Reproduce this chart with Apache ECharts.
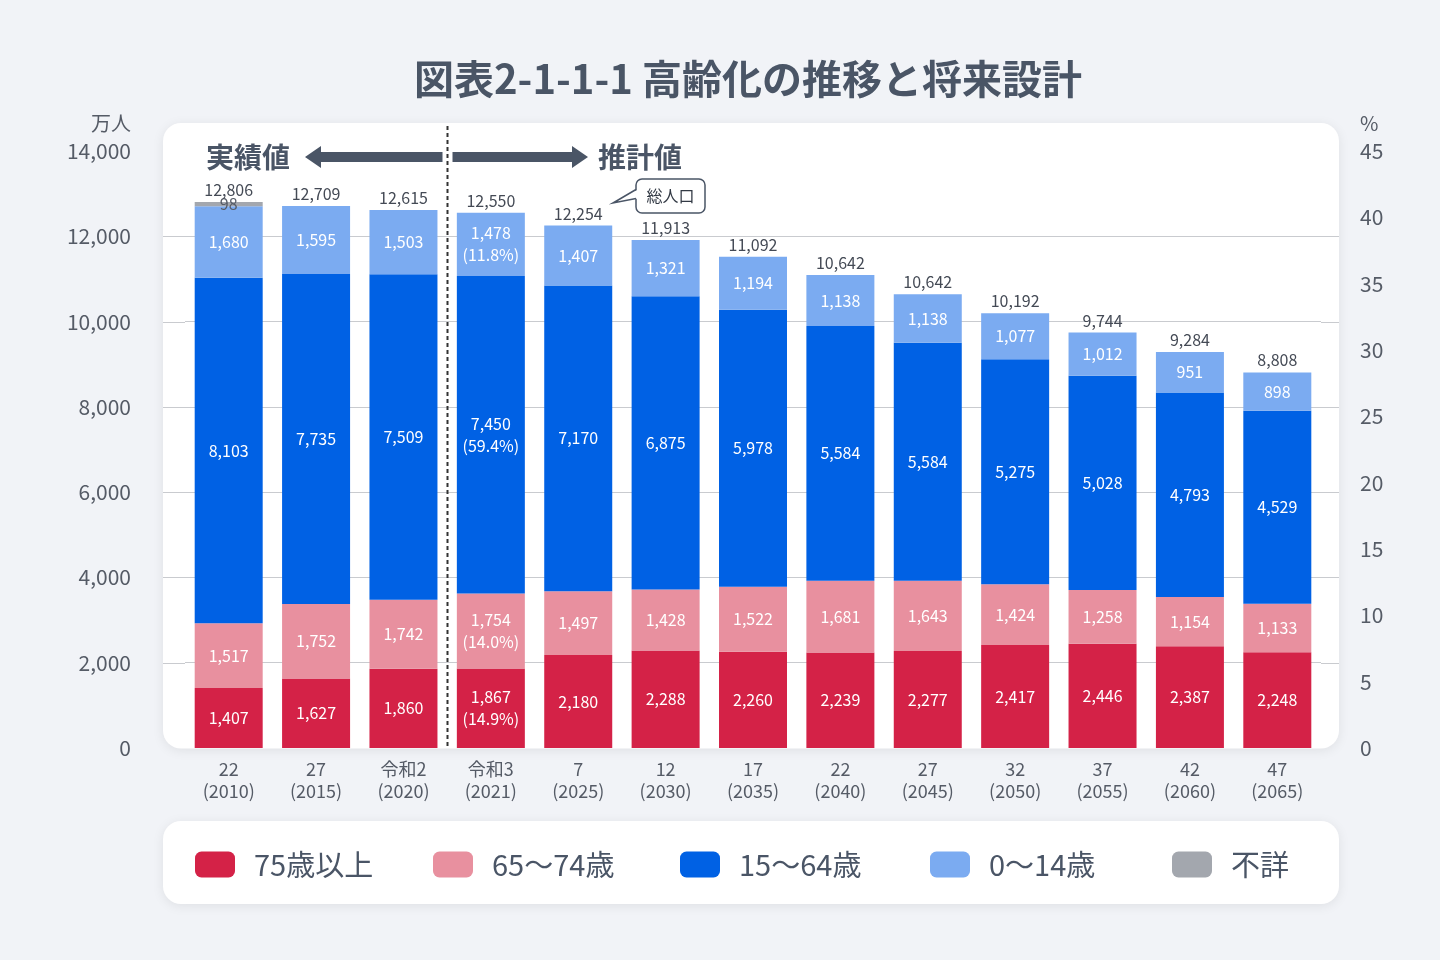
<!DOCTYPE html>
<html>
<head>
<meta charset="utf-8">
<script src="https://cdn.jsdelivr.net/npm/echarts@6/dist/echarts.min.js"></script>
<style>
html,body{margin:0;padding:0;background:#f1f3f7;}
#c{width:1440px;height:960px;}
</style>
</head>
<body>
<div id="c"></div>
<script>
// ---- data ----
const eras  = ['22','27','令和2','令和3','7','12','17','22','27','32','37','42','47'];
const years = ['2010','2015','2020','2021','2025','2030','2035','2040','2045','2050','2055','2060','2065'];

// bar heights as drawn
const age75   = [1407,1627,1860,1867,2180,2288,2260,2239,2277,2417,2446,2387,2248];
const age65   = [1517,1752,1619,1754,1497,1428,1522,1681,1643,1424,1258,1154,1133];
const age15   = [8103,7735,7633,7450,7170,6875,6494,5978,5584,5275,5028,4793,4529];
const age0    = [1680,1595,1503,1478,1407,1321,1246,1194,1138,1077,1012,951,898];
const unknown = [98,0,0,0,0,0,0,0,0,0,0,0,0];

// value labels as printed
const label75    = [1407,1627,1860,1867,2180,2288,2260,2239,2277,2417,2446,2387,2248];
const label65    = [1517,1752,1742,1754,1497,1428,1522,1681,1643,1424,1258,1154,1133];
const label15    = [8103,7735,7509,7450,7170,6875,5978,5584,5584,5275,5028,4793,4529];
const label0     = [1680,1595,1503,1478,1407,1321,1194,1138,1138,1077,1012,951,898];
const totalLabel = [12806,12709,12615,12550,12254,11913,11092,10642,10642,10192,9744,9284,8808];
// shares printed for 令和3 (2021): 75+, 65-74, 15-64, 0-14
const share2021  = [14.9,14.0,59.4,11.8];

const leftAxis  = {min:0, max:14000, interval:2000};
const rightAxis = {min:0, max:45, interval:5};

// ---- chart ----
const FONT = "'Noto Sans CJK JP','Noto Sans',sans-serif";
const TXT = '#4a5566';
const GRID = '#c9cbcf';
const fmt = v => Number(v).toLocaleString('en-US');
const idx2021 = years.indexOf('2021');
const zeros = years.map(() => 0);

function seg(name, values, labels, share, color) {
  return {
    name, type:'bar', stack:'pop', barWidth:68, data:values,
    itemStyle:{color}, emphasis:{disabled:true},
    label:{
      show:true, position:'inside', color:'#fff', fontSize:16, lineHeight:22, fontFamily:FONT,
      formatter: p => fmt(labels[p.dataIndex]) + (p.dataIndex === idx2021 ? '\n(' + share.toFixed(1) + '%)' : '')
    }
  };
}

const names = ['75歳以上','65〜74歳','15〜64歳','0〜14歳','不詳'];
const colors = ['#d42247','#e8909f','#0061e4','#7babf1','#a3a7ae'];
const legendLeft = [195,433,680,930,1172];

const chart = echarts.init(document.getElementById('c'));

const option = {
  backgroundColor:'#f1f3f7',
  animation:false,
  textStyle:{fontFamily:FONT},
  title:{
    text:'図表2-1-1-1 高齢化の推移と将来設計',
    left:409, top:54,
    textStyle:{fontSize:40, fontWeight:'bold', color:TXT, fontFamily:FONT}
  },
  legend: names.map((n,i) => ({
    data:[n], left:legendLeft[i], top:850, padding:0,
    itemWidth:40, itemHeight:26, icon:'roundRect',
    selectedMode:false,
    textStyle:{fontSize:29, color:TXT, fontFamily:FONT, padding:[0,0,0,14]}
  })),
  grid:{left:185, right:119, top:151, bottom:212},
  xAxis:{
    type:'category',
    data: eras.map((e,i) => e + '\n(' + years[i] + ')'),
    axisLine:{show:false}, axisTick:{show:false},
    axisLabel:{fontSize:18, lineHeight:22, color:'#555b66', margin:10, fontFamily:FONT}
  },
  yAxis:[
    {
      type:'value', min:leftAxis.min, max:leftAxis.max, interval:leftAxis.interval,
      name:'万人', nameLocation:'end', nameGap:18,
      nameTextStyle:{fontSize:20, color:'#555b66', align:'right', padding:[0,54,0,0], fontFamily:FONT},
      axisLine:{show:false}, axisTick:{show:false},
      axisLabel:{fontSize:21, color:'#555b66', margin:54, formatter:fmt, fontFamily:FONT},
      splitLine:{show:true, lineStyle:{width:1, color:['rgba(0,0,0,0)',GRID,GRID,GRID,GRID,GRID,GRID,'rgba(0,0,0,0)']}}
    },
    {
      type:'value', position:'right', min:rightAxis.min, max:rightAxis.max, interval:rightAxis.interval,
      name:'%', nameLocation:'end', nameGap:18,
      nameTextStyle:{fontSize:20, color:'#555b66', align:'left', padding:[0,0,0,39], fontFamily:FONT},
      axisLine:{show:false}, axisTick:{show:false}, splitLine:{show:false},
      axisLabel:{fontSize:21, color:'#555b66', margin:39, fontFamily:FONT}
    }
  ],
  series:[
    seg(names[0], age75, label75, share2021[0], colors[0]),
    seg(names[1], age65, label65, share2021[1], colors[1]),
    seg(names[2], age15, label15, share2021[2], colors[2]),
    seg(names[3], age0,  label0,  share2021[3], colors[3]),
    {
      name:names[4], type:'bar', stack:'pop', barWidth:68, data:unknown,
      itemStyle:{color:colors[4]}, emphasis:{disabled:true},
      label:{show:true, position:'inside', color:'#555b66', fontSize:16, fontFamily:FONT,
        formatter:p => p.value ? fmt(p.value) : ''}
    },
    {
      name:'総人口', type:'bar', stack:'pop', barWidth:68, data:zeros,
      itemStyle:{color:'rgba(0,0,0,0)'}, emphasis:{disabled:true},
      label:{show:true, position:'top', distance:4, color:'#444a55', fontSize:16, fontFamily:FONT,
        formatter:p => fmt(totalLabel[p.dataIndex])}
    }
  ]
};
chart.setOption(option);

// ---- annotations (placed from the library's scales) ----
const xa = chart.convertToPixel({xAxisIndex:0}, 2);
const xb = chart.convertToPixel({xAxisIndex:0}, 3);
const dashX = Math.round((xa + xb) / 2) + 0.5;
const arrowY = 157;
const AR = '#4a5566';
const CARD_L = 163, CARD_R = 1339;
const gridL = chart.convertToPixel({xAxisIndex:0}, 0) - (xb - xa) / 2;
const gridR = chart.convertToPixel({xAxisIndex:0}, years.length - 1) + (xb - xa) / 2;

// extend the grid lines to the card edges
const extLines = [];
for (let v = leftAxis.min + leftAxis.interval; v < leftAxis.max; v += leftAxis.interval) {
  const y = Math.round(chart.convertToPixel({yAxisIndex:0}, v)) + 0.5;
  extLines.push({type:'line', z:-5, silent:true, shape:{x1:CARD_L, y1:y, x2:gridL, y2:y}, style:{stroke:GRID, lineWidth:1}});
  extLines.push({type:'line', z:-5, silent:true, shape:{x1:gridR, y1:y, x2:CARD_R, y2:y}, style:{stroke:GRID, lineWidth:1}});
}

chart.setOption({
  graphic:[
    {type:'rect', z:-10, silent:true, shape:{x:CARD_L, y:123, width:CARD_R - CARD_L, height:625.5, r:18},
     style:{fill:'#fff', shadowBlur:12, shadowColor:'rgba(0,0,0,0.08)', shadowOffsetY:2}},
    {type:'rect', z:-10, silent:true, shape:{x:CARD_L, y:821, width:CARD_R - CARD_L, height:83, r:18},
     style:{fill:'#fff', shadowBlur:12, shadowColor:'rgba(0,0,0,0.08)', shadowOffsetY:2}},
    ...extLines,
    {type:'line', z:100, silent:true, shape:{x1:dashX, y1:126, x2:dashX, y2:748},
     style:{stroke:'#333', lineWidth:2, lineDash:[4,3]}},
    {type:'polygon', z:100, silent:true,
     shape:{points:[[305,arrowY],[321,arrowY-11],[321,arrowY-5],[dashX-5,arrowY-5],[dashX-5,arrowY+5],[321,arrowY+5],[321,arrowY+11]]},
     style:{fill:AR}},
    {type:'polygon', z:100, silent:true,
     shape:{points:[[dashX+5,arrowY-5],[572,arrowY-5],[572,arrowY-11],[588,arrowY],[572,arrowY+11],[572,arrowY+5],[dashX+5,arrowY+5]]},
     style:{fill:AR}},
    {type:'text', z:100, silent:true, x:206, y:arrowY,
     style:{text:'実績値', font:"bold 28px 'Noto Sans CJK JP'", fill:AR, verticalAlign:'middle', align:'left'}},
    {type:'text', z:100, silent:true, x:598, y:arrowY,
     style:{text:'推計値', font:"bold 28px 'Noto Sans CJK JP'", fill:AR, verticalAlign:'middle', align:'left'}},
    {type:'rect', z:100, silent:true, shape:{x:636, y:179, width:69, height:34, r:6},
     style:{fill:'#fff', stroke:AR, lineWidth:1.5}},
    {type:'polygon', z:101, silent:true, shape:{points:[[638,189.5],[613,203],[638,198.5]]},
     style:{fill:'#fff'}},
    {type:'polyline', z:102, silent:true, shape:{points:[[636,189.5],[613,203],[636,198.5]]},
     style:{stroke:AR, lineWidth:1.5, fill:null}},
    {type:'text', z:103, silent:true, x:670.5, y:196,
     style:{text:'総人口', font:"16px 'Noto Sans CJK JP'", fill:'#333a45', verticalAlign:'middle', align:'center'}}
  ]
});
</script>
</body>
</html>
